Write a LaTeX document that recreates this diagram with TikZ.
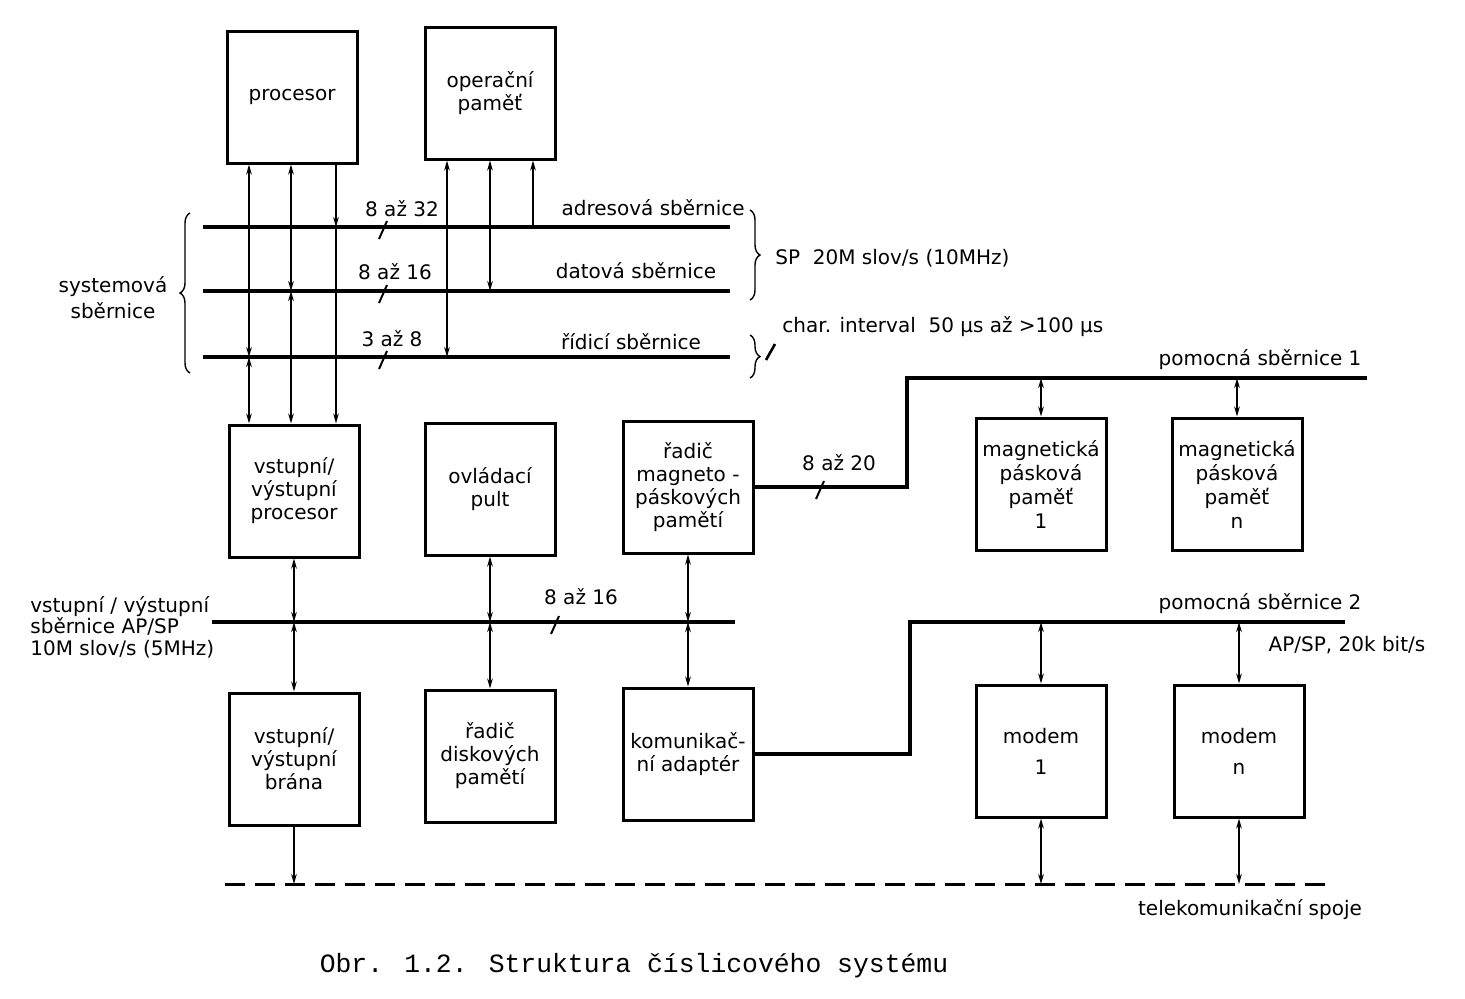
\documentclass[tikz,border=0pt]{standalone}
\usepackage{fontspec}
\setmainfont{DejaVu Sans}
\newfontfamily\capfont{Liberation Mono}
\usetikzlibrary{arrows.meta,decorations.pathreplacing}
\begin{document}
\begin{tikzpicture}[x=0.5pt,y=-0.5pt,
  >={Stealth[length=5pt,width=2.8pt]},
  box/.style={draw,line width=1.5pt,minimum width=65pt,minimum height=66pt,inner sep=1pt,align=center,font=\fontsize{10}{11.5}\selectfont},
  bus/.style={line width=2pt},
  conn/.style={line width=0.9pt},
  tickmark/.style={line width=1pt},
  lbl/.style={inner sep=0pt,font=\fontsize{10}{12}\selectfont},
  bracestyle/.style={line width=0.7pt,decorate,decoration={brace,amplitude=5pt}}]
\useasboundingbox (0,0) rectangle (1465,998);

% boxes
\node[box] (proc) at (292,97) {procesor};
\node[box] (mem) at (490,93) {operační\\paměť};
\node[box] (iop) at (294,491) {vstupní/\\výstupní\\procesor};
\node[box] (pult) at (490,489) {ovládací\\pult};
\node[box] (rmag) at (688,487) {řadič\\magneto -\\páskových\\pamětí};
\node[box,font=\fontsize{10}{12}\selectfont] (mpp1) at (1041,484) {magnetická\\pásková\\paměť\\1};
\node[box,font=\fontsize{10}{12}\selectfont] (mppn) at (1237,484) {magnetická\\pásková\\paměť\\n};
\node[box] (brana) at (294,759) {vstupní/\\výstupní\\brána};
\node[box] (rdisk) at (490,756) {řadič\\diskových\\pamětí};
\node[box] (kom) at (688,754) {komunikač-\\ní adaptér};
\node[box] (mod1) at (1041,751) {modem\\[4pt]1};
\node[box] (modn) at (1239,751) {modem\\[4pt]n};

% bus coordinates
\coordinate (abL) at (203,227); \coordinate (abR) at (730,227);
\coordinate (dbL) at (203,291); \coordinate (dbR) at (730,291);
\coordinate (cbL) at (203,357); \coordinate (cbR) at (730,357);
\coordinate (iobL) at (212,622); \coordinate (iobR) at (735,622);
\coordinate (pb1a) at (rmag.east -| 907,0);
\coordinate (pb1b) at (907,378);
\coordinate (pb1R) at (1367,378);
\coordinate (pb2a) at (kom.east -| 910,0);
\coordinate (pb2b) at (910,622);
\coordinate (pb2R) at (1345,622);
\coordinate (tkL) at (225,884); \coordinate (tkR) at (1330,884);

% buses
\draw[bus] (abL) -- (abR);
\draw[bus] (dbL) -- (dbR);
\draw[bus] (cbL) -- (cbR);
\draw[bus] (iobL) -- (iobR);
\draw[bus] (rmag.east) -- (pb1a) -- (pb1b) -- (pb1R);
\draw[bus] (kom.east) -- (pb2a) -- (pb2b) -- (pb2R);
\draw[line width=1.5pt,dash pattern=on 10pt off 5pt] (tkL) -- (tkR);

% columns
\coordinate (c1) at (249,0); \coordinate (c2) at (291,0); \coordinate (c3) at (336,0);
\coordinate (m1) at (447,0); \coordinate (m2) at (490,0); \coordinate (m3) at (533,0);

% system bus connectors
\draw[conn,<->] (proc.south -| c1) -- (c1 |- cbL);
\draw[conn,<->] (c1 |- cbL) -- (iop.north -| c1);
\draw[conn,<->] (proc.south -| c2) -- (c2 |- dbL);
\draw[conn,<->] (c2 |- dbL) -- (iop.north -| c2);
\draw[conn,->] (proc.south -| c3) -- (c3 |- abL);
\draw[conn,->] (c3 |- abL) -- (iop.north -| c3);
\draw[conn,<->] (mem.south -| m1) -- (m1 |- cbL);
\draw[conn,<->] (mem.south -| m2) -- (m2 |- dbL);
\draw[conn,->] (m3 |- abL) -- (mem.south -| m3);

% I/O bus connectors
\draw[conn,<->] (iop.south) -- (iop.south |- iobL);
\draw[conn,<->] (iop.south |- iobL) -- (brana.north);
\draw[conn,<->] (pult.south) -- (pult.south |- iobL);
\draw[conn,<->] (pult.south |- iobL) -- (rdisk.north);
\draw[conn,<->] (rmag.south) -- (rmag.south |- iobL);
\draw[conn,<->] (rmag.south |- iobL) -- (kom.north);

% auxiliary buses
\draw[conn,<->] (mpp1.north |- pb1R) -- (mpp1.north);
\draw[conn,<->] (mppn.north |- pb1R) -- (mppn.north);
\draw[conn,<->] (mod1.north |- pb2R) -- (mod1.north);
\draw[conn,<->] (modn.north |- pb2R) -- (modn.north);
\draw[conn,<->] (mod1.south) -- (mod1.south |- tkL);
\draw[conn,<->] (modn.south) -- (modn.south |- tkL);
\draw[conn,->] (brana.south) -- (brana.south |- tkL);

% width ticks
\draw[tickmark] (383,227) ++(-4,12) -- ++(8,-18);
\draw[tickmark] (383,291) ++(-4,12) -- ++(8,-18);
\draw[tickmark] (383,357) ++(-4,12) -- ++(8,-18);
\draw[tickmark] (820,487) ++(-4,12) -- ++(8,-18);
\draw[tickmark] (555,622) ++(-4,12) -- ++(8,-18);

% labels
\node[lbl] (l832) at (402,209) {8 až 32};
\node[lbl] (l816) at (395,272) {8 až 16};
\node[lbl] (l38) at (392,339) {3 až 8};
\node[lbl,anchor=east] (lab) at (745,208) {adresová sběrnice};
\node[lbl] (ldb) at (636,271) {datová sběrnice};
\node[lbl] (lcb) at (631,342) {řídicí sběrnice};
\node[lbl] (l820) at (839,463) {8 až 20};
\node[lbl] (l816b) at (581,597) {8 až 16};
\node[lbl] (lpb1) at (1260,360) {pomocná sběrnice 1};
\node[lbl] (lpb2) at (1260,604) {pomocná sběrnice 2};
\node[lbl] (lapsp) at (1347,645) {AP/SP, 20k bit/s};
\node[lbl] (ltk) at (1250,910) {telekomunikační spoje};
\node[lbl,anchor=west] (lsp) at (775,258) {SP\ \ 20M slov/s (10MHz)};
\node[lbl,anchor=west] (lchar) at (782,327) {char. interval\ \ 50 µs až >100 µs};
\node[lbl,align=center,font=\fontsize{10}{13}\selectfont] (lsys) at (113,298) {systemová\\sběrnice};
\node[lbl,align=left,anchor=west,font=\fontsize{10}{10.8}\selectfont] (liob) at (30,627) {vstupní / výstupní\\sběrnice AP/SP\\10M slov/s (5MHz)};

% braces
\draw[bracestyle] (190,373) -- (190,213);
\draw[bracestyle] (750,210) -- (750,300);
\draw[bracestyle] (750,335) -- (750,378);
\draw[line width=1.3pt] (766,360) -- (775,344);

% caption
\node[inner sep=0pt,font=\capfont\fontsize{13.2}{16}\selectfont] (cap) at (634,966) {Obr. 1.2. Struktura číslicového systému};
\end{tikzpicture}
\end{document}
